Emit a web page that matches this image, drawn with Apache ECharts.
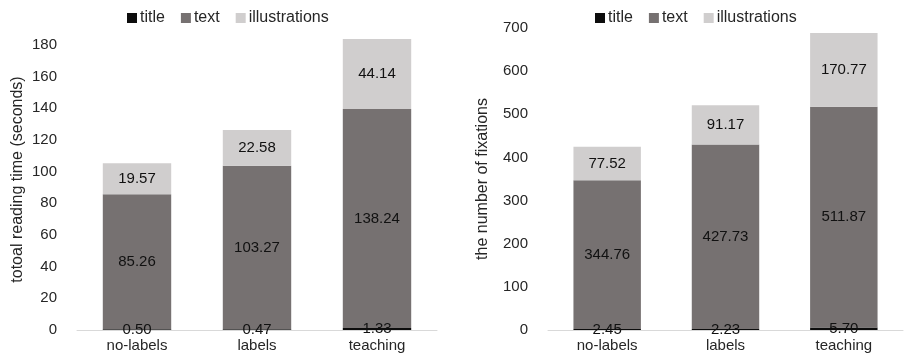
<!DOCTYPE html>
<html>
<head>
<meta charset="utf-8">
<script src="https://cdn.jsdelivr.net/npm/echarts@6/dist/echarts.min.js"></script>
<style>
  html, body { margin: 0; padding: 0; background: #fff; }
  #chart { width: 906px; height: 364px; }
</style>
</head>
<body>
<div id="chart"></div>
<script>
// Conditions shown on both panels
const categories = ['no-labels', 'labels', 'teaching'];
const seriesNames = ['title', 'text', 'illustrations'];

// Total reading time (seconds) per area of interest
const timeTitle = [0.50, 0.47, 1.33];
const timeText = [85.26, 103.27, 138.24];
const timeIllustrations = [19.57, 22.58, 44.14];

// Number of fixations per area of interest
const fixTitle = [2.45, 2.23, 5.70];
const fixText = [344.76, 427.73, 511.87];
const fixIllustrations = [77.52, 91.17, 170.77];

const colors = ['#0d0d0d', '#767171', '#d0cece'];
const FONT = "'Liberation Sans', Arial, sans-serif";
const txt = '#262626';

function stackSeries(values, axisIdx, stackId) {
  return values.map((vals, i) => ({
    name: seriesNames[i],
    type: 'bar',
    stack: stackId,
    xAxisIndex: axisIdx,
    yAxisIndex: axisIdx,
    barWidth: '57%',
    data: vals,
    itemStyle: { color: colors[i] },
    label: {
      show: true,
      position: 'inside',
      formatter: p => p.value.toFixed(2),
      color: '#111',
      fontFamily: FONT,
      fontSize: 15
    },
    emphasis: { disabled: true },
    animation: false
  }));
}

const legendBase = {
  data: seriesNames,
  itemWidth: 10,
  itemHeight: 10,
  itemGap: 16,
  icon: 'rect',
  textStyle: { fontFamily: FONT, fontSize: 16, color: txt, padding: [0, 0, 0, -2] }
};

function xAxisDef(gridIndex) {
  return {
    type: 'category',
    gridIndex,
    data: categories,
    axisLine: { lineStyle: { color: '#d9d9d9', width: 1 } },
    axisTick: { show: false },
    axisLabel: { fontFamily: FONT, fontSize: 15, color: txt, margin: 8 }
  };
}

function yAxisDef(gridIndex, name, max, interval, labelMax, gap) {
  return {
    type: 'value',
    gridIndex,
    min: 0,
    max,
    interval,
    name,
    nameLocation: 'middle',
    nameGap: gap,
    nameTextStyle: { fontFamily: FONT, fontSize: 16, color: txt },
    axisLine: { show: false },
    axisTick: { show: false },
    splitLine: { show: false },
    axisLabel: {
      fontFamily: FONT, fontSize: 15, color: txt, margin: 20,
      formatter: v => (v <= labelMax ? String(v) : '')
    }
  };
}

const chart = echarts.init(document.getElementById('chart'), null, { renderer: 'canvas' });
chart.setOption({
  animation: false,
  legend: [
    Object.assign({ left: 122, top: 5 }, legendBase),
    Object.assign({ left: 590, top: 5 }, legendBase)
  ],
  grid: [
    { left: 77, width: 360, top: 29, bottom: 34 },
    { left: 548, width: 355, top: 28, bottom: 34 }
  ],
  xAxis: [xAxisDef(0), xAxisDef(1)],
  yAxis: [
    yAxisDef(0, 'totoal reading time (seconds)', 190, 20, 180, 51),
    yAxisDef(1, 'the number of fixations', 700, 100, 700, 57)
  ],
  series: [
    ...stackSeries([timeTitle, timeText, timeIllustrations], 0, 'time'),
    ...stackSeries([fixTitle, fixText, fixIllustrations], 1, 'fix')
  ]
});
</script>
</body>
</html>
